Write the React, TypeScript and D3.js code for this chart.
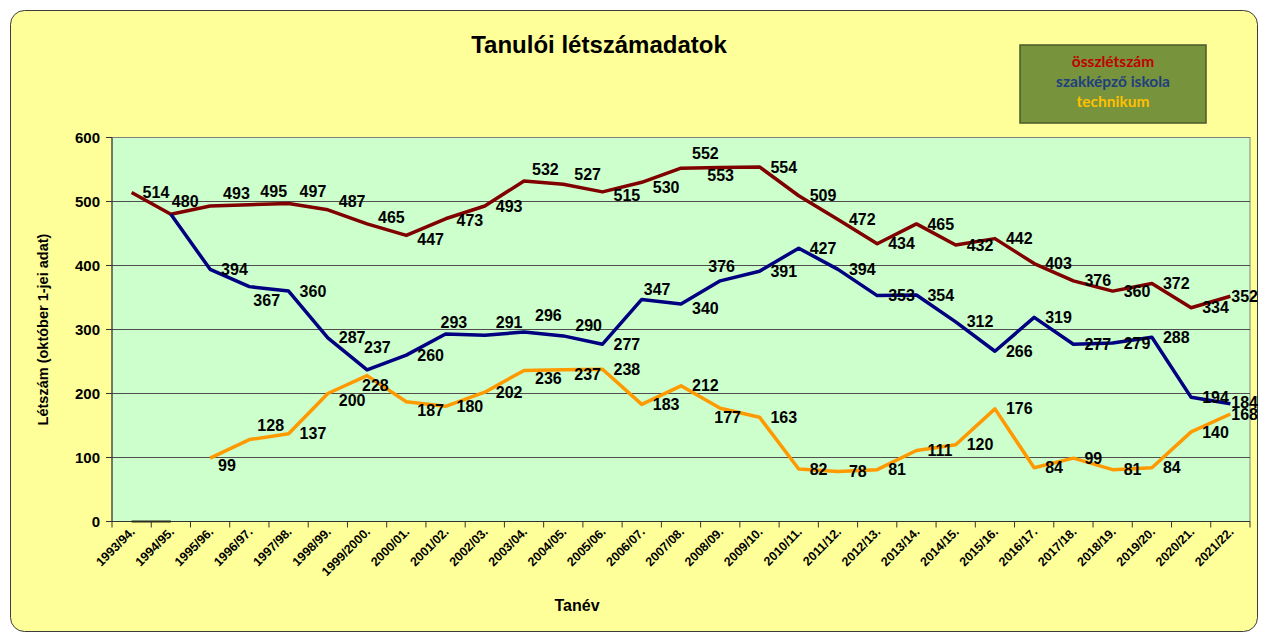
import React from "react";
import * as d3 from "d3";

// school years on the x axis
const categories = [
  "1993/94.", "1994/95.", "1995/96.", "1996/97.", "1997/98.", "1998/99.",
  "1999/2000.", "2000/01.", "2001/02.", "2002/03.", "2003/04.", "2004/05.",
  "2005/06.", "2006/07.", "2007/08.", "2008/09.", "2009/10.", "2010/11.",
  "2011/12.", "2012/13.", "2013/14.", "2014/15.", "2015/16.", "2016/17.",
  "2017/18.", "2018/19.", "2019/20.", "2020/21.", "2021/22.",
];

const osszletszam = [
  514, 480, 493, 495, 497, 487, 465, 447, 473, 493, 532, 527, 515, 530, 552,
  553, 554, 509, 472, 434, 465, 432, 442, 403, 376, 360, 372, 334, 352,
];

const szakkepzo = [
  null, 480, 394, 367, 360, 287, 237, 260, 293, 291, 296, 290, 277, 347, 340,
  376, 391, 427, 394, 353, 354, 312, 266, 319, 277, 279, 288, 194, 184,
];

const technikum = [
  null, null, 99, 128, 137, 200, 228, 187, 180, 202, 236, 237, 238, 183, 212,
  177, 163, 82, 78, 81, 111, 120, 176, 84, 99, 81, 84, 140, 168,
];

// short flat segment at 0 in the first two years
const zeroLine = [0, 0];

const yTicks = [0, 100, 200, 300, 400, 500, 600];

// hand-moved data labels (relative to the default "right" position)
const labelNudges: Record<string, [number, number] | null> = {
  "r1": [-10, -13], "r2": [2, -13], "r3": [0, -13], "r4": [0, -12],
  "r5": [0, -8], "r6": [0, -7], "r7": [0, 4], "r8": [0, 2],
  "r10": [-3, -12], "r11": [0, -10], "r12": [0, 3], "r13": [0, 5],
  "r14": [0, -15], "r15": [-24, 8],
  "b1": null, "b3": [-7, 14], "b6": [-14, -22], "b8": [-16, -12],
  "b9": [0, -13], "b10": [0, -17], "b11": [1, -11], "b13": [-9, -10],
  "b14": [0, 4], "b15": [-23, -14], "b28": [0, -1],
  "t2": [-3, 7], "t3": [-3, -14], "t5": [0, 7], "t6": [-16, 10],
  "t7": [0, 9], "t10": [0, 8], "t11": [0, 5], "t15": [-17, 9],
};

const FONT = "'Liberation Sans', Arial, sans-serif";

const App = () => {
  const margin = { left: 112, right: 1250, top: 137.5, bottom: 521.5 };

  const x = d3
    .scaleBand<string>()
    .domain(categories)
    .range([margin.left, margin.right])
    .padding(0);

  const y = d3.scaleLinear().domain([0, 600]).range([margin.bottom, margin.top]);

  const cx = (i: number) => (x(categories[i]) as number) + x.bandwidth() / 2;

  const line = d3
    .line<number | null>()
    .defined((d) => d !== null)
    .x((_, i) => cx(i))
    .y((d) => y(d as number));

  const series = [
    { key: "r", values: osszletszam, color: "#800000" },
    { key: "b", values: szakkepzo, color: "#000080" },
    { key: "t", values: technikum, color: "#FF9900" },
  ];

  // labels: left edge 11px right of the point, kept inside the chart
  const labels: { text: string; x: number; y: number; k: string }[] = [];
  series.forEach((s) => {
    s.values.forEach((v, i) => {
      if (v === null) return;
      const k = s.key + i;
      const nudge = labelNudges[k];
      if (nudge === null) return;
      const [ndx, ndy] = nudge || [0, 0];
      const w = String(v).length * 8.9;
      let lx = cx(i) + 11 + ndx;
      if (lx + w > 1258) lx = 1258 - w;
      labels.push({ text: String(v), x: lx, y: y(v) + ndy, k });
    });
  });

  return (
    <svg
      width={1262}
      height={635}
      style={{ position: "absolute", left: 0, top: 0, background: "#fff" }}
    >
      <rect
        x={10.5}
        y={10.5}
        width={1247}
        height={621}
        rx={14}
        fill="#FFFF99"
        stroke="#3c3c3c"
        strokeWidth={1}
      />

      <text
        x={599}
        y={53}
        textAnchor="middle"
        fontFamily={FONT}
        fontWeight="bold"
        fontSize={24}
        fill="#000"
      >
        Tanulói létszámadatok
      </text>

      {/* legend box */}
      <rect x={1020} y={45} width={186} height={78} fill="#77933C" stroke="#4A5A2A" strokeWidth={1.5} />
      <g fontFamily="Lato, 'Noto Sans', sans-serif" fontWeight="bold" fontSize={15.5} textAnchor="middle">
        <text x={1113} y={67} fill="#C00000">összlétszám</text>
        <text x={1113} y={87} fill="#1F3F7F">szakképző iskola</text>
        <text x={1113} y={107} fill="#FFC000">technikum</text>
      </g>

      {/* plot area */}
      <rect
        x={margin.left}
        y={margin.top}
        width={margin.right - margin.left}
        height={margin.bottom - margin.top}
        fill="#CCFFCC"
        stroke="#808080"
        strokeWidth={1}
      />

      {yTicks.map((t) => (
        <g key={t}>
          {t > 0 && t < 600 && (
            <line x1={margin.left} x2={margin.right} y1={y(t)} y2={y(t)} stroke="#4d4d4d" strokeWidth={1} />
          )}
          <line x1={margin.left - 6} x2={margin.left} y1={y(t)} y2={y(t)} stroke="#333" strokeWidth={1} />
          <text
            x={100}
            y={y(t)}
            dy="0.35em"
            textAnchor="end"
            fontFamily={FONT}
            fontWeight="bold"
            fontSize={15}
            fill="#000"
          >
            {t}
          </text>
        </g>
      ))}

      {/* axes */}
      <line x1={margin.left} x2={margin.left} y1={margin.top} y2={margin.bottom} stroke="#333" strokeWidth={1} />
      <line x1={margin.left} x2={margin.right} y1={margin.bottom} y2={margin.bottom} stroke="#333" strokeWidth={1} />

      {categories.map((c) => (
        <line
          key={"tk" + c}
          x1={x(c)}
          x2={x(c)}
          y1={margin.bottom}
          y2={margin.bottom + 6}
          stroke="#333"
          strokeWidth={1}
        />
      ))}
      <line x1={margin.right} x2={margin.right} y1={margin.bottom} y2={margin.bottom + 6} stroke="#333" />

      {categories.map((c, i) => (
        <text
          key={"xl" + c}
          transform={`translate(${cx(i) + 4},${margin.bottom + 11}) rotate(-45)`}
          textAnchor="end"
          fontFamily={FONT}
          fontWeight="bold"
          fontSize={12.5}
          fill="#000"
        >
          {c}
        </text>
      ))}

      <text
        x={577}
        y={611}
        textAnchor="middle"
        fontFamily={FONT}
        fontWeight="bold"
        fontSize={16}
        fill="#000"
      >
        Tanév
      </text>
      <text
        transform={`translate(48,${(margin.top + margin.bottom) / 2}) rotate(-90)`}
        textAnchor="middle"
        fontFamily={FONT}
        fontWeight="bold"
        fontSize={14.5}
        fill="#000"
      >
        Létszám (október 1-jei adat)
      </text>

      {/* lines */}
      <path d={line(zeroLine) || ""} fill="none" stroke="#2b2b1b" strokeWidth={2} />
      {series.map((s) => (
        <path
          key={s.key}
          d={line(s.values) || ""}
          fill="none"
          stroke={s.color}
          strokeWidth={3.5}
          strokeLinejoin="round"
        />
      ))}

      {/* data labels */}
      <g fontFamily={FONT} fontWeight="bold" fontSize={16} fill="#000">
        {labels.map((l) => (
          <text key={l.k} x={l.x} y={l.y} dy="0.35em">
            {l.text}
          </text>
        ))}
      </g>
    </svg>
  );
};

export default App;
